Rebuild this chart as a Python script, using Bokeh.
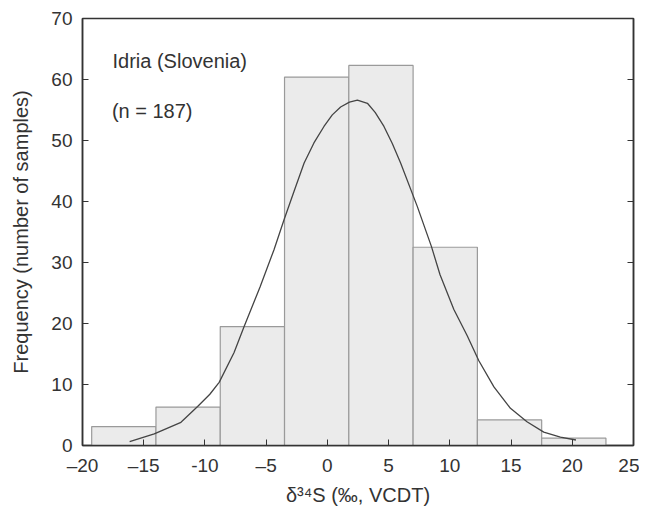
from bokeh.plotting import figure
from bokeh.models import LinearAxis, FixedTicker, Label
from bokeh.embed import file_html
from bokeh.resources import INLINE

# Histogram data (bin edges and counts)
bin_edges = [-19.25, -14.0, -8.75, -3.5, 1.75, 7.0, 12.25, 17.5, 22.75]
counts = [3.1, 6.3, 19.5, 60.4, 62.3, 32.5, 4.2, 1.2]

# Fitted curve points
curve_x = [-16.15, -14.14, -11.96, -10.6, -9.6, -8.84, -7.62, -6.8, -5.5, -4.36, -3.54,
           -2.7, -1.9, -1.1, -0.28, 0.4, 1.08, 1.8, 2.45, 3.27, 3.9, 4.62, 5.3, 5.98, 7.34, 8.5, 9.2,
           10.33, 11.42, 12.37, 13.6, 14.95, 16.3, 17.67, 19.03, 20.3]
curve_y = [0.65, 1.9, 3.8, 6.4, 8.4, 10.35, 15.25, 19.5, 26.0, 32.1, 37.0,
           41.8, 46.3, 49.6, 52.3, 54.2, 55.5, 56.3, 56.6, 56.1, 54.6, 52.3, 49.5, 46.3, 39.2, 32.6, 28.0,
           22.3, 18.0, 13.9, 9.6, 6.1, 3.9, 2.2, 1.37, 0.9]

x_ticks = [-20, -15, -10, -5, 0, 5, 10, 15, 20, 25]
x_tick_labels = ["\u201320", "\u201315", "-10", "\u20135", "0", "5", "10", "15", "20", "25"]
y_ticks = [0, 10, 20, 30, 40, 50, 60, 70]

FONT = "Liberation Sans"
TXT = "#333333"

p = figure(width=639, height=508, x_range=(-20, 25), y_range=(0, 70),
           output_backend="svg", toolbar_location=None,
           min_border_left=82, min_border_right=6, min_border_top=18,
           min_border_bottom=61)
p.background_fill_color = "white"
p.border_fill_color = "white"
p.outline_line_color = "#333333"
p.outline_line_width = 1.5
p.xgrid.visible = False
p.ygrid.visible = False

p.quad(left=bin_edges[:-1], right=bin_edges[1:], bottom=0, top=counts,
       fill_color="#ebebeb", line_color="#9a9a9a", line_width=1.2)
p.line(curve_x, curve_y, line_color="#444444", line_width=1.3)

for ax, ticks in ((p.xaxis[0], x_ticks), (p.yaxis[0], y_ticks)):
    ax.ticker = FixedTicker(ticks=ticks)
    ax.minor_tick_line_color = None
    ax.major_tick_in = 6
    ax.major_tick_out = 0
    ax.axis_line_color = "#333333"
    ax.axis_line_width = 1.5
    ax.major_tick_line_color = "#333333"
    ax.major_label_text_font = FONT
    ax.major_label_text_font_size = "19px"
    ax.major_label_text_color = TXT
    ax.axis_label_text_font = FONT
    ax.axis_label_text_font_size = "20px"
    ax.axis_label_text_font_style = "normal"
    ax.axis_label_text_color = TXT
    ax.major_label_standoff = 10

p.xaxis[0].major_label_overrides = dict(zip(x_ticks, x_tick_labels))
p.xaxis[0].major_label_standoff = 9
p.xaxis[0].axis_label = "\u03b4\u00b3\u2074S (\u2030, VCDT)"
p.xaxis[0].axis_label_standoff = 5
p.yaxis[0].axis_label = "Frequency (number of samples)"
p.yaxis[0].axis_label_standoff = 16

right = LinearAxis(ticker=FixedTicker(ticks=y_ticks), major_tick_in=6, major_tick_out=0,
                   minor_tick_line_color=None,
                   major_label_overrides={t: "" for t in y_ticks},
                   axis_line_color="#333333", axis_line_width=1.5,
                   major_tick_line_color="#333333", major_label_standoff=0)
p.add_layout(right, "right")

p.add_layout(Label(x=-17.55, y=63.0, text="Idria (Slovenia)", text_font=FONT,
                   text_font_size="20px", text_color=TXT, text_baseline="alphabetic"))
p.add_layout(Label(x=-17.6, y=54.8, text="(n = 187)", text_font=FONT,
                   text_font_size="20px", text_color=TXT, text_baseline="alphabetic"))

open("out.html", "w").write(file_html(p, INLINE))
